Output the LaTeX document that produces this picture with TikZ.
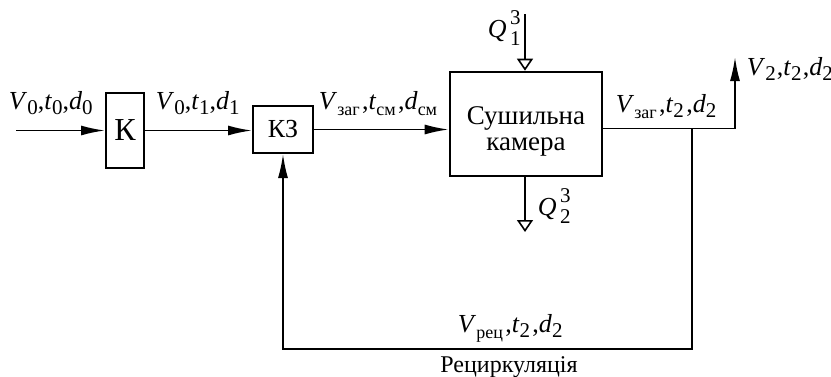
\documentclass[tikz,border=0pt]{standalone}
\usepackage{fontspec}
\setmainfont{Liberation Serif}
\usetikzlibrary{arrows.meta}
\newcommand\lsub[1]{\raisebox{-0.45ex}{\fontsize{10.5}{10.5}\selectfont #1}}
\newcommand\csub[1]{\raisebox{-0.55ex}{\fontsize{9}{9}\selectfont #1}}
\newcommand\var[1]{\textit{#1}}
\newcommand\gapc{\kern1.2pt}
\newcommand\Qlab[2]{\textit{Q}\rlap{\raisebox{1.05ex}{\fontsize{10.5}{10.5}\selectfont\,#1}}\raisebox{-0.75ex}{\fontsize{10.5}{10.5}\selectfont\,#2}}
\begin{document}
\begin{tikzpicture}[x=0.5pt,y=-0.5pt,
  font=\fontsize{13}{15}\selectfont,
  line width=0.9pt,
  blk/.style={draw,line width=1pt,inner sep=0pt},
  lbl/.style={inner sep=0pt,anchor=base west},
  arr/.style={-{Latex[length=12pt,width=5pt]}},
  oarr/.style={-{Triangle[open,length=6pt,width=8pt,line width=0.8pt]}}]
\useasboundingbox (0,0) rectangle (831,376);
% blocks
\node[blk,minimum width=19pt,minimum height=37.5pt,font=\fontsize{16}{16}\selectfont] (k) at (125,130.5) {К};
\node[blk,minimum width=30pt,minimum height=23.5pt] (kz) at (283,129.5) {КЗ};
\node[blk,line width=1.3pt,minimum width=76pt,minimum height=52pt] (ch) at (526,124) {};
\node[align=center,inner sep=0pt,font=\fontsize{13.5}{13}\selectfont] (chl) at (526,131) {Сушильна\\камера};
% coordinates
\coordinate (in) at (16,130.5);
\coordinate (br) at (692,128.5);
\coordinate (up) at (735,128.5);
\coordinate (top) at (735,57);
\coordinate (bot) at (692,349);
\coordinate (q1) at (525,14);
\coordinate (q2) at (525,232);
% connectors
\draw[arr] (in) -- (k.west);
\draw[arr] (k.east) -- (k.east -| kz.west);
\draw[arr] (kz.east) -- (kz.east -| ch.west);
\draw[arr] (ch.east |- br) -- (up) -- (top);
\draw[arr] (br) -- (bot) -| (kz.south);
\draw[oarr] (q1) -- (q1 |- ch.north);
\draw[oarr] (q2 |- ch.south) -- (q2);
% labels
\node[lbl] (l0) at (8,109) {\var{V}\lsub{0},\var{t}\lsub{0},\var{d}\lsub{0}};
\node[lbl] (l1) at (155,109) {\var{V}\lsub{0},\var{t}\lsub{1},\var{d}\lsub{1}};
\node[lbl] (l2) at (318,109) {\var{V}\csub{заг}\gapc,\var{t}\csub{см}\gapc,\var{d}\csub{см}};
\node[lbl] (l3) at (615,112) {\var{V}\csub{заг}\gapc,\var{t}\lsub{2}\gapc,\var{d}\lsub{2}};
\node[lbl] (l4) at (746,75) {\var{V}\lsub{2}\kern0.6pt,\var{t}\lsub{2}\kern0.6pt,\var{d}\lsub{2}};
\node[lbl] (l5) at (457,332) {\var{V}\csub{рец}\gapc,\var{t}\lsub{2}\gapc,\var{d}\lsub{2}};
\node[inner sep=0pt,anchor=base,font=\fontsize{12}{12}\selectfont] (rc) at (509,372) {Рециркуляція};
\node[lbl] (q1l) at (487,37) {\Qlab{3}{1}};
\node[lbl] (q2l) at (537,215) {\Qlab{3}{2}};
\end{tikzpicture}
\end{document}
